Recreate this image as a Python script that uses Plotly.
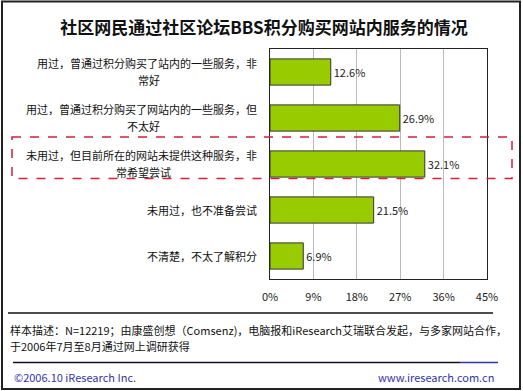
import plotly.graph_objects as go

# ---- data ----
categories = ["c1", "c2", "c3", "c4", "c5"]
category_labels = [
    ["用过，曾通过积分购买了站内的一些服务，非", "常好"],
    ["用过，曾通过积分购买了网站内的一些服务，但", "不太好"],
    ["未用过，但目前所在的网站未提供这种服务，非", "常希望尝试"],
    ["未用过，也不准备尝试"],
    ["不清楚，不太了解积分"],
]
values = [12.6, 26.9, 32.1, 21.5, 6.9]
tick_values = [0, 9, 18, 27, 36, 45]
tick_labels = ["0%", "9%", "18%", "27%", "36%", "45%"]

title_text = "社区网民通过社区论坛BBS积分购买网站内服务的情况"
note_line1 = "样本描述：N=12219；由康盛创想（Comsenz)，电脑报和iResearch艾瑞联合发起，与多家网站合作，"
note_line2 = "于2006年7月至8月通过网上调研获得"
footer_left = "©2006.10 iResearch Inc."
footer_right = "www.iresearch.com.cn"

# ---- layout geometry (pixels) ----
W, H = 523, 391
PL, PR, PT, PB = 270, 487, 49, 279  # plot area
LABEL_RIGHT = 259
LABEL_FS = 11
LINE_GAP = 17


def px(x):
    return (x - PL) / (PR - PL)


def py(y):
    return (PB - y) / (PB - PT)


FONT = "Noto Sans CJK SC, sans-serif"

fig = go.Figure()
fig.add_trace(go.Bar(
    x=values,
    y=categories,
    orientation="h",
    width=0.57,
    marker=dict(color="#99CC00", line=dict(color="#333333", width=1)),
    text=[f"{v}%" for v in values],
    textposition="outside",
    textfont=dict(size=11, color="#222222", family=FONT),
    cliponaxis=False,
    hoverinfo="skip",
))

annotations = []
for c, lines in zip(categories, category_labels):
    if len(lines) == 1:
        annotations.append(dict(
            x=px(LABEL_RIGHT), xref="paper", y=c, yref="y",
            text=lines[0], showarrow=False, xanchor="right", yanchor="middle",
            font=dict(size=LABEL_FS, color="#111111", family=FONT),
        ))
    else:
        first_w = len(lines[0]) * LABEL_FS
        center = LABEL_RIGHT - first_w / 2
        annotations.append(dict(
            x=px(LABEL_RIGHT), xref="paper", y=c, yref="y", yshift=LINE_GAP / 2 + 1,
            text=lines[0], showarrow=False, xanchor="right", yanchor="middle",
            font=dict(size=LABEL_FS, color="#111111", family=FONT),
        ))
        annotations.append(dict(
            x=px(center), xref="paper", y=c, yref="y", yshift=-LINE_GAP / 2 + 1,
            text=lines[1], showarrow=False, xanchor="center", yanchor="middle",
            font=dict(size=LABEL_FS, color="#111111", family=FONT),
        ))

annotations += [
    dict(x=px(8), xref="paper", y=py(330), yref="paper", text=note_line1,
         showarrow=False, xanchor="left", yanchor="middle",
         font=dict(size=11, color="#111111", family=FONT)),
    dict(x=px(8), xref="paper", y=py(346), yref="paper", text=note_line2,
         showarrow=False, xanchor="left", yanchor="middle",
         font=dict(size=11, color="#111111", family=FONT)),
    dict(x=px(12), xref="paper", y=py(377), yref="paper", text=footer_left,
         showarrow=False, xanchor="left", yanchor="middle",
         font=dict(size=11, color="#3333AA", family=FONT)),
    dict(x=px(496), xref="paper", y=py(377), yref="paper", text=footer_right,
         showarrow=False, xanchor="right", yanchor="middle",
         font=dict(size=11, color="#3333AA", family=FONT)),
]

shapes = [
    # outer border
    dict(type="rect", xref="paper", yref="paper",
         x0=px(2), x1=px(520), y0=py(1.5), y1=py(389),
         line=dict(color="#222222", width=2)),
    # highlight dashed box
    dict(type="rect", xref="paper", yref="paper",
         x0=px(12), x1=px(512), y0=py(137), y1=py(178.5),
         line=dict(color="#D81E3C", width=1.5, dash="dash")),
    # footer separator lines
    dict(type="line", xref="paper", yref="paper",
         x0=px(8), x1=px(493), y0=py(313), y1=py(313),
         line=dict(color="#111111", width=1.5)),
    dict(type="line", xref="paper", yref="paper",
         x0=px(13), x1=px(460), y0=py(362.5), y1=py(362.5),
         line=dict(color="#111122", width=1.5)),
    dict(type="line", xref="paper", yref="paper",
         x0=px(460), x1=px(498), y0=py(362.5), y1=py(362.5),
         line=dict(color="#3333AA", width=1.5)),
]

fig.update_layout(
    width=W, height=H,
    margin=dict(l=PL, r=W - PR, t=PT, b=H - PB, pad=0),
    paper_bgcolor="white", plot_bgcolor="white",
    showlegend=False,
    title=dict(text=f"<b>{title_text}</b>", x=264 / W, xanchor="center",
               y=1 - 28 / H, yanchor="middle", yref="container",
               font=dict(size=17, color="#111111", family=FONT)),
    xaxis=dict(range=[0, 45], tickvals=tick_values, ticktext=tick_labels,
               showgrid=True, gridcolor="#BBBBBB", gridwidth=1,
               showline=True, linecolor="#222222", linewidth=1, mirror=True,
               zeroline=False, ticks="", ticklabelstandoff=8,
               tickfont=dict(size=11, color="#222222", family=FONT),
               fixedrange=True),
    yaxis=dict(categoryorder="array", categoryarray=categories,
               range=[4.5, -0.5], showticklabels=False, ticks="",
               showgrid=False, showline=True, linecolor="#222222",
               linewidth=1, mirror=True, zeroline=False, fixedrange=True),
    annotations=annotations,
    shapes=shapes,
    bargap=0.43,
)

fig.write_html(
    "out.html",
    config={"displayModeBar": False},
    post_script="document.body.style.margin='0';document.body.style.overflow='hidden';",
)
